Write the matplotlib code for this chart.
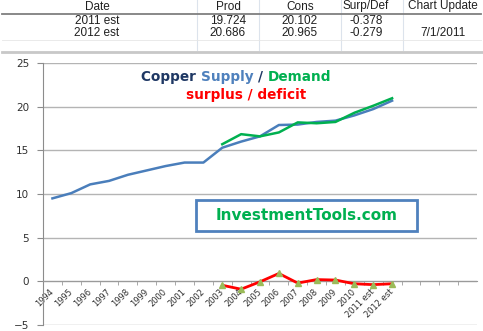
import matplotlib
matplotlib.use("Agg")
import matplotlib.pyplot as plt
from matplotlib.patches import Rectangle

# chart data
years = ['1994', '1995', '1996', '1997', '1998', '1999', '2000', '2001', '2002',
         '2003', '2004', '2005', '2006', '2007', '2008', '2009', '2010',
         '2011 est', '2012 est', '', '', '', '']
prod = [9.5, 10.1, 11.1, 11.5, 12.2, 12.7, 13.2, 13.6, 13.6, 15.3, 16.0, 16.6,
        17.9, 17.95, 18.25, 18.4, 19.0, 19.724, 20.686]
cons = [15.7, 16.85, 16.6, 17.05, 18.2, 18.1, 18.25, 19.3, 20.102, 20.965]
surplus = [-0.45, -0.9, -0.05, 0.9, -0.2, 0.2, 0.15, -0.28, -0.378, -0.279]
cons_start = 9  # 2003

# table at the top
tbl_header = ['Date', 'Prod', 'Cons', 'Surp/Def', 'Chart Update']
tbl_rows = [['2011 est', '19.724', '20.102', '-0.378', ''],
            ['2012 est', '20.686', '20.965', '-0.279', '7/1/2011']]
col_x = [97, 228, 300, 366, 443]
col_sep = [197, 259, 341, 403]

W, H = 483, 331
fig = plt.figure(figsize=(W / 100, H / 100), dpi=100)

# chart axes (pixel box: x 43..477, y 63..325)
ax = fig.add_axes([43 / W, 1 - 325 / H, (477 - 43) / W, (325 - 63) / H])
x = list(range(len(years)))
ax.plot(x[:len(prod)], prod, color='#4A7EBB', lw=1.8, zorder=3)
xc = x[cons_start:cons_start + len(cons)]
ax.plot(xc, cons, color='#00B050', lw=1.8, zorder=3)
ax.plot(xc, surplus, color='#FF0000', lw=2, marker='^', ms=4,
        mfc='#9BBB59', mec='#9BBB59', zorder=4)

ax.set_xlim(-0.5, len(years) - 0.5)
ax.set_ylim(-5, 25)
ax.set_yticks([-5, 0, 5, 10, 15, 20, 25])
ax.yaxis.grid(True, color='#B4B4B4', lw=1)
ax.set_axisbelow(True)
for s in ['top', 'right']:
    ax.spines[s].set_visible(False)
ax.spines['left'].set_color('#8C8C8C')
ax.spines['bottom'].set_color('#9A9A9A')
ax.spines['bottom'].set_position(('data', 0))
ax.tick_params(axis='y', length=4, color='#8C8C8C', pad=6, labelsize=7.5,
               labelcolor='#303030')

ax.set_xticks(x)
ax.set_xticklabels(years, rotation=45, ha='right', va='center',
                   rotation_mode='anchor', fontsize=6, color='#303030')
ax.set_xticks([i + 0.5 for i in x[:-1]], minor=True)
ax.tick_params(axis='x', which='major', length=0, pad=6.5)
ax.tick_params(axis='x', which='minor', length=3, color='#9A9A9A')

# overlay in pixel coordinates for the table, titles and box
ov = fig.add_axes([0, 0, 1, 1], zorder=5)
ov.set_xlim(0, W)
ov.set_ylim(H, 0)
ov.axis('off')
ov.patch.set_alpha(0)

for cx in col_sep:
    ov.plot([cx, cx], [0, 50], color='#DCE3EC', lw=0.8)
ov.plot([2, 481], [13.5, 13.5], color='#7F7F7F', lw=1.3)
ov.plot([2, 481], [40, 40], color='#E6E6E6', lw=0.6)
ov.plot([2, 483], [51.5, 51.5], color='#C8C8C8', lw=2)

for cx, t in zip(col_x, tbl_header):
    ov.text(cx, 6.5, t, ha='center', va='center', fontsize=8.5,
            family='Liberation Sans', color='#202020')
for r, ty in zip(tbl_rows, [20.5, 33.5]):
    for cx, t in zip(col_x, r):
        ov.text(cx, ty, t, ha='center', va='center', fontsize=8.5,
                family='Liberation Sans', color='#202020')

# multicoloured title
pieces = [('Copper ', '#1F3864'), ('Supply ', '#4F81BD'),
          ('/ ', '#1F3864'), ('Demand', '#00B050')]
prev = ov.text(141, 77, pieces[0][0], color=pieces[0][1], fontsize=9.8,
               weight='bold', va='center', ha='left')
for word, col in pieces[1:]:
    prev = ov.annotate(word, xy=(1, 0), xycoords=prev, va='bottom',
                       color=col, fontsize=9.8, weight='bold')
ov.text(246, 95, 'surplus / deficit', color='#FF0000', fontsize=9.8,
        weight='bold', ha='center', va='center')

ov.add_patch(Rectangle((196, 200), 221, 31, facecolor='white',
                       edgecolor='#4F81BD', lw=2))
ov.text(306.5, 215.5, 'InvestmentTools.com', color='#00B050', fontsize=11,
        weight='bold', ha='center', va='center')

fig.savefig('out.png', dpi=100)
